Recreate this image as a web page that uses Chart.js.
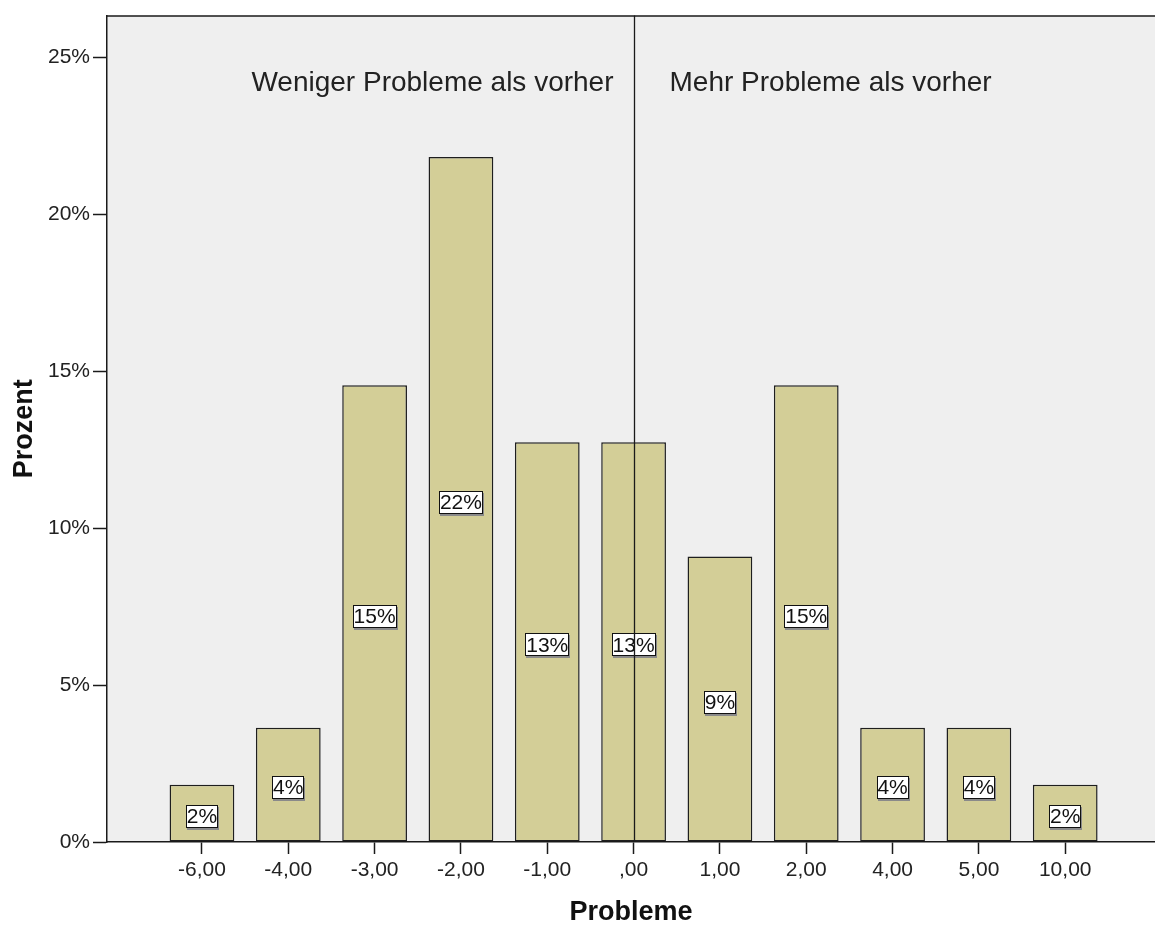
<!DOCTYPE html>
<html>
<head>
<meta charset="utf-8">
<script src="https://cdn.jsdelivr.net/npm/chart.js@4"></script>
<style>
  html, body { margin: 0; padding: 0; background: #ffffff; }
  #wrap { width: 1155px; height: 926px; position: relative; }
</style>
</head>
<body>
<div id="wrap"><canvas id="c" width="1155" height="926"></canvas></div>
<script>
// ---- data ----
const categories = ["-6,00", "-4,00", "-3,00", "-2,00", "-1,00", ",00", "1,00", "2,00", "4,00", "5,00", "10,00"];
const percentValues = [1.82, 3.64, 14.55, 21.82, 12.73, 12.73, 9.09, 14.55, 3.64, 3.64, 1.82];
const yTickValues = [0, 5, 10, 15, 20, 25];
const leftNote = "Weniger Probleme als vorher";
const rightNote = "Mehr Probleme als vorher";
const referenceCategory = ",00";
const xTitle = "Probleme";
const yTitle = "Prozent";

const FONT = "'Liberation Sans', Arial, sans-serif";

const points = categories.map((c, i) => ({ x: i, y: percentValues[i] }));

const bgPlugin = {
  id: 'bgPlugin',
  beforeDraw(chart) {
    const { ctx, chartArea: a } = chart;
    ctx.save();
    ctx.fillStyle = '#efefef';
    ctx.fillRect(a.left, a.top, a.right - a.left, a.bottom - a.top);
    ctx.restore();
  },
  afterDraw(chart) {
    const { ctx, chartArea: a, scales } = chart;
    ctx.save();
    ctx.strokeStyle = '#1a1a1a';
    ctx.lineWidth = 1.5;
    ctx.beginPath();
    ctx.moveTo(a.left, a.top + 0.5);
    ctx.lineTo(a.right, a.top + 0.5);
    ctx.stroke();
    const rx = Math.round(scales.x.getPixelForValue(categories.indexOf(referenceCategory))) + 0.5;
    ctx.lineWidth = 1.3;
    ctx.beginPath();
    ctx.moveTo(rx, a.top);
    ctx.lineTo(rx, a.bottom);
    ctx.stroke();
    ctx.fillStyle = '#222';
    ctx.font = "28px " + FONT;
    ctx.textBaseline = 'middle';
    ctx.textAlign = 'right';
    ctx.fillText(leftNote, rx - 21, 83);
    ctx.textAlign = 'left';
    ctx.fillText(rightNote, rx + 35, 83);
    ctx.restore();
  },
  afterDatasetsDraw(chart) {
    const { ctx } = chart;
    const meta = chart.getDatasetMeta(0);
    ctx.save();
    ctx.font = "21px " + FONT;
    ctx.textBaseline = 'middle';
    ctx.textAlign = 'center';
    meta.data.forEach((bar, i) => {
      const v = percentValues[i];
      const label = Math.round(v) + '%';
      const cx = bar.x;
      const cy = (bar.y + bar.base) / 2 + 3;
      const tw = ctx.measureText(label).width;
      const w = Math.round(tw + 2), h = 23;
      const x0 = Math.round(cx - w / 2), y0 = Math.round(cy - h / 2);
      ctx.fillStyle = '#8a8a8a';
      ctx.fillRect(x0 + 1, y0 + 2, w, h);
      ctx.fillStyle = '#ffffff';
      ctx.fillRect(x0, y0, w, h);
      ctx.strokeStyle = '#111';
      ctx.lineWidth = 1;
      ctx.strokeRect(x0 + 0.5, y0 + 0.5, w - 1, h - 1);
      ctx.fillStyle = '#111';
      ctx.fillText(label, cx, cy + 1);
    });
    ctx.restore();
  }
};

new Chart(document.getElementById('c'), {
  type: 'bar',
  data: {
    datasets: [{
      data: points,
      backgroundColor: '#d3ce97',
      borderColor: '#1e1e1e',
      borderWidth: 1.5,
      borderSkipped: false,
      barPercentage: 0.75,
      categoryPercentage: 1.0
    }]
  },
  plugins: [bgPlugin],
  options: {
    responsive: false,
    animation: false,
    devicePixelRatio: 1,
    layout: { padding: { top: 13, left: 0, right: 0, bottom: 0 } },
    plugins: { legend: { display: false }, tooltip: { enabled: false } },
    scales: {
      x: {
        type: 'linear',
        offset: false,
        min: -1.1,
        max: 11.04,
        afterBuildTicks(scale) { scale.ticks = categories.map((c, i) => ({ value: i })); },
        afterFit(scale) { scale.height = 84; },
        ticks: {
          autoSkip: false,
          maxRotation: 0,
          padding: 4,
          color: '#222',
          font: { family: FONT, size: 21 },
          callback: (v) => categories[v]
        },
        grid: { offset: false, drawOnChartArea: false, drawTicks: true, tickLength: 12, color: '#1a1a1a', tickWidth: 1.5 },
        border: { display: true, color: '#1a1a1a', width: 1.5 },
        title: {
          display: true, text: xTitle, color: '#111',
          font: { family: FONT, size: 27, weight: 'bold', lineHeight: 1 },
          padding: { top: 0, bottom: 0 }
        }
      },
      y: {
        type: 'linear',
        min: 0,
        max: 26.32,
        afterBuildTicks(scale) { scale.ticks = yTickValues.map(v => ({ value: v })); },
        afterFit(scale) { scale.width = 107; },
        ticks: {
          padding: 3,
          color: '#222',
          font: { family: FONT, size: 21 },
          callback: (v) => v + '%'
        },
        grid: { drawOnChartArea: false, drawTicks: true, tickLength: 14, color: '#1a1a1a', tickWidth: 1.5 },
        border: { display: true, color: '#1a1a1a', width: 1.5 },
        title: {
          display: true, text: yTitle, color: '#111',
          font: { family: FONT, size: 27, weight: 'bold', lineHeight: 1 },
          padding: { top: 11, bottom: 0 }
        }
      }
    }
  }
});
</script>
</body>
</html>
